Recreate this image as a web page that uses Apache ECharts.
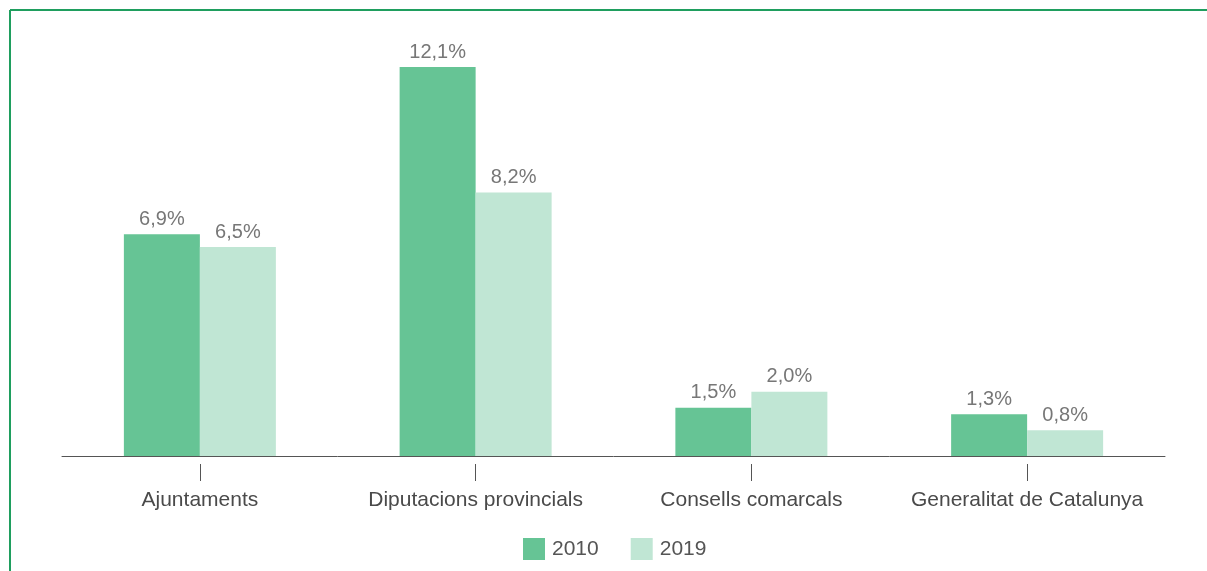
<!DOCTYPE html>
<html>
<head>
<meta charset="utf-8">
<script src="https://cdn.jsdelivr.net/npm/echarts@6/dist/echarts.min.js"></script>
<style>
html,body{margin:0;padding:0;background:#fff;}
#chart{width:1207px;height:571px;}
</style>
</head>
<body>
<div id="chart"></div>
<script>
const categories = ['Ajuntaments', 'Diputacions provincials', 'Consells comarcals', 'Generalitat de Catalunya'];
const seriesNames = ['2010', '2019'];
const values2010 = [6.9, 12.1, 1.5, 1.3];
const values2019 = [6.5, 8.2, 2.0, 0.8];

const chart = echarts.init(document.getElementById('chart'), null, {renderer: 'canvas'});
const fmt = p => p.value.toFixed(1).replace('.', ',') + '%';
const labelStyle = {show: true, position: 'top', distance: 5, formatter: fmt, color: '#777', fontSize: 20, fontFamily: 'Liberation Sans'};

chart.setOption({
  animation: false,
  backgroundColor: '#fff',
  textStyle: {fontFamily: 'Liberation Sans'},
  graphic: [
    {type: 'line', shape: {x1: 10, y1: 10, x2: 1207, y2: 10}, style: {stroke: '#1f9e5e', lineWidth: 2}},
    {type: 'line', shape: {x1: 10, y1: 10, x2: 10, y2: 571}, style: {stroke: '#1f9e5e', lineWidth: 2}}
  ],
  legend: {
    data: seriesNames,
    left: 518,
    top: 533,
    itemWidth: 22,
    itemHeight: 22,
    itemGap: 32,
    icon: 'rect',
    textStyle: {color: '#555', fontSize: 21, fontFamily: 'Liberation Sans', padding: [3, 0, 0, 2]}
  },
  grid: {left: 62, width: 1103, top: 6, height: 450, containLabel: false},
  xAxis: [
    {
      type: 'category',
      data: categories,
      axisLine: {show: true, lineStyle: {color: '#555', width: 1}},
      axisTick: {show: false},
      axisLabel: {interval: 0, hideOverlap: false, color: '#4a4a4a', fontSize: 21, margin: 34, fontFamily: 'Liberation Sans'}
    },
    {
      type: 'category',
      data: categories,
      position: 'bottom',
      offset: 8,
      axisLine: {show: false},
      axisTick: {show: true, interval: 0, alignWithLabel: true, length: 17, lineStyle: {color: '#555', width: 1}},
      axisLabel: {show: false}
    }
  ],
  yAxis: {
    type: 'value', min: 0, max: 14,
    show: false
  },
  series: [
    {name: seriesNames[0], type: 'bar', data: values2010, barWidth: 76, barGap: '0%', itemStyle: {color: '#66c495'}, label: labelStyle},
    {name: seriesNames[1], type: 'bar', data: values2019, barWidth: 76, barGap: '0%', itemStyle: {color: '#c0e6d4'}, label: labelStyle}
  ]
});
</script>
</body>
</html>
